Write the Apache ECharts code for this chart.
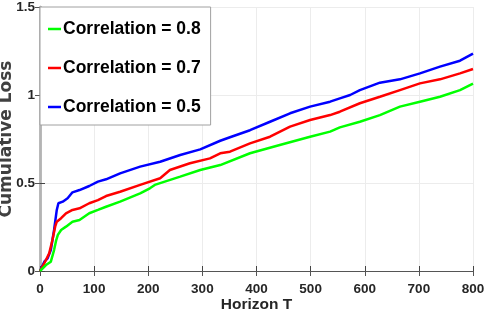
<!DOCTYPE html>
<html><head><meta charset="utf-8">
<script src="https://cdn.jsdelivr.net/npm/echarts@6/dist/echarts.min.js"></script>
<style>html,body{margin:0;padding:0;background:#fff}#c{width:486px;height:324px}</style>
</head><body><div id="c"></div>
<script>
var seriesNames = ['Correlation = 0.8', 'Correlation = 0.7', 'Correlation = 0.5'];
var seriesColors = ['#00ff00', '#ff0000', '#0000ff'];
var greenT = [0,11,20,26,30,33,39,48,60,73,91,107,122,148,185,203,212,259,296,333,388,443,499,536,554,591,628,665,702,739,776,800];
var greenV = [0,0.034,0.053,0.119,0.176,0.205,0.233,0.252,0.28,0.29,0.328,0.347,0.365,0.394,0.441,0.47,0.489,0.536,0.574,0.602,0.669,0.716,0.763,0.792,0.816,0.848,0.886,0.934,0.962,0.99,1.028,1.064];
var redT = [0,8,17,23,28,31,39,48,60,73,91,107,122,148,185,222,240,277,314,333,351,388,425,462,499,536,554,591,628,665,702,739,776,800];
var redV = [0,0.044,0.1,0.176,0.252,0.28,0.3,0.328,0.347,0.356,0.385,0.403,0.426,0.45,0.489,0.527,0.574,0.612,0.64,0.669,0.678,0.725,0.763,0.82,0.858,0.886,0.905,0.953,0.99,1.028,1.066,1.089,1.123,1.148];
var blueT = [0,8,14,20,26,31,34,42,51,60,73,91,107,122,148,185,222,259,296,333,351,388,425,462,499,536,554,573,591,628,665,702,739,776,800];
var blueV = [0,0.053,0.072,0.119,0.233,0.347,0.385,0.394,0.413,0.447,0.46,0.483,0.508,0.521,0.555,0.593,0.621,0.659,0.691,0.74,0.76,0.8,0.848,0.896,0.934,0.962,0.981,1.0,1.028,1.07,1.089,1.123,1.161,1.195,1.235];
var yTickLabels = {0:'0', 0.5:'0.5', 1:'1', 1.5:'1.5'};

function pairs(t, v){ return t.map(function(x,i){ return [x, v[i]]; }); }
var allData = [pairs(greenT, greenV), pairs(redT, redV), pairs(blueT, blueV)];
var FONT = '"Liberation Sans", Arial, sans-serif';
var chart = echarts.init(document.getElementById('c'));
var lblStyle = {color:'#262626', fontFamily:FONT, fontWeight:'bold', fontSize:13.5};
chart.setOption({
  animation:false,
  grid:{left:40, right:13, top:7, bottom:53, outerBoundsMode:'none', containLabel:false},
  legend:{
    orient:'vertical', left:40, top:7,
    data:seriesNames,
    icon:'rect', itemWidth:13, itemHeight:2.5, itemGap:21,
    backgroundColor:'#fff', borderColor:'#a0a0a0', borderWidth:1, borderRadius:0,
    padding:[13, 10, 9, 8],
    textStyle:{color:'#000', fontFamily:FONT, fontWeight:'bold', fontSize:17.5, lineHeight:18, padding:[0,0,0,-3]}
  },
  xAxis:[{
    type:'value', min:0, max:800, interval:100,
    axisLine:{show:true, lineStyle:{color:'#444', width:1}},
    axisTick:{show:true, inside:true, length:5, lineStyle:{color:'#444'}},
    splitLine:{show:true, lineStyle:{color:'#ececec', width:1}},
    axisLabel:Object.assign({margin:11}, lblStyle),
    name:'Horizon T', nameLocation:'middle', nameGap:26, nameMoveOverlap:false,
    nameTextStyle:{color:'#262626', fontFamily:FONT, fontWeight:'bold', fontSize:15.5}
  },{
    type:'value', min:0, max:800, interval:100, position:'top',
    axisLine:{show:true, lineStyle:{color:'#555', width:1}},
    axisTick:{show:true, inside:true, length:5, lineStyle:{color:'#555'}},
    axisLabel:{show:false}, splitLine:{show:false}
  }],
  yAxis:[{
    type:'value', min:0, max:1.5, interval:0.5,
    axisLine:{show:true, lineStyle:{color:'#b4b4b4', width:2.5}},
    axisTick:{show:true, inside:true, length:5, lineStyle:{color:'#444'}},
    splitLine:{show:true, lineStyle:{color:'#ececec', width:1}},
    axisLabel:Object.assign({margin:5, formatter:function(v){ return yTickLabels[v] !== undefined ? yTickLabels[v] : ''; }}, lblStyle),
    name:'Cumulative Loss', nameLocation:'middle', nameGap:25, nameMoveOverlap:false,
    nameTextStyle:{color:'#404040', fontFamily:'DejaVu Sans', fontWeight:'bold', fontSize:17}
  },{
    type:'value', min:0, max:1.5, interval:0.5, position:'right',
    axisLine:{show:true, lineStyle:{color:'#b4b4b4', width:2.5}},
    axisTick:{show:true, inside:true, length:5, lineStyle:{color:'#555'}},
    axisLabel:{show:false}, splitLine:{show:false}
  }],
  series:allData.map(function(d,i){
    return {name:seriesNames[i], type:'line', data:d, showSymbol:false, symbol:'none',
      xAxisIndex:0, yAxisIndex:0, z:10-i,
      lineStyle:{color:seriesColors[i], width:2.5}, itemStyle:{color:seriesColors[i]}};
  })
});
</script></body></html>
